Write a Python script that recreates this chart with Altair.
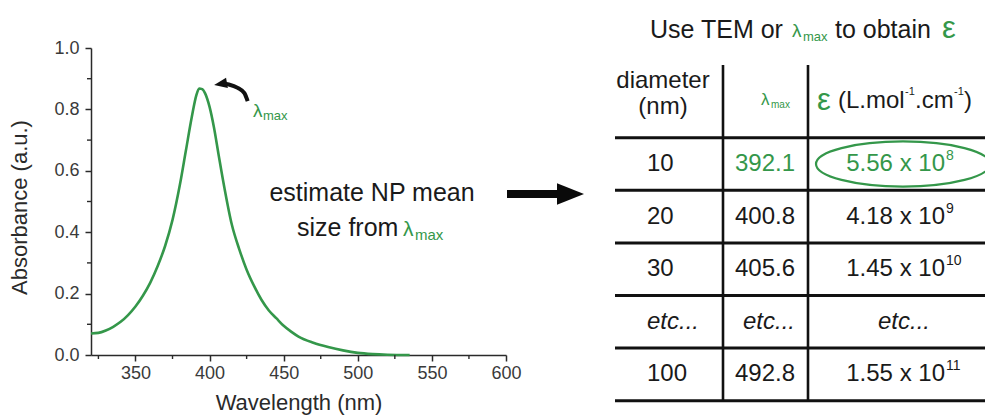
import altair as alt
import pandas as pd

# ---------------- data ----------------
wavelength = [320, 325, 330, 335, 340, 345, 350, 355, 360, 365, 370, 375, 380, 384, 388,
              391, 393, 395, 397, 400, 403, 406, 410, 415, 420, 425, 430, 435, 440, 445,
              450, 455, 460, 470, 480, 490, 500, 510, 520, 535]
absorbance = [0.070, 0.072, 0.080, 0.092, 0.108, 0.130, 0.158, 0.193, 0.236, 0.290, 0.355,
              0.440, 0.555, 0.665, 0.775, 0.845, 0.868, 0.866, 0.852, 0.808, 0.740, 0.655,
              0.545, 0.425, 0.345, 0.278, 0.225, 0.180, 0.145, 0.120, 0.095, 0.076, 0.060,
              0.040, 0.026, 0.015, 0.007, 0.003, 0.001, 0.000]

x_major = [350, 400, 450, 500, 550, 600]
x_minor = [325, 375, 425, 475, 525, 575]
y_major = [0.0, 0.2, 0.4, 0.6, 0.8, 1.0]
y_minor = [0.1, 0.3, 0.5, 0.7, 0.9]

# arrow pointing at the absorbance maximum (data units)
arrow_wl = [425.7, 423.5, 419.0, 413.0, 409.0]
arrow_abs = [0.827, 0.853, 0.870, 0.881, 0.884]
arrow_head_wl = [407.4]
arrow_head_abs = [0.883]

diameters = ["10", "20", "30", "etc...", "100"]
lambda_max = ["392.1", "400.8", "405.6", "etc...", "492.8"]
eps_mantissa = ["5.56 x 10", "4.18 x 10", "1.45 x 10", "etc...", "1.55 x 10"]
eps_exponent = ["8", "9", "10", "", "11"]
highlight_row = 0

# ---------------- style ----------------
FONT = "Liberation Sans"
GREEN = "#34974a"
INK = "#1a1a1a"
AXIS = "#2a2a2a"
W, H = 415, 307

X = alt.Scale(domain=[320, 600], nice=False, zero=False)
Y = alt.Scale(domain=[0, 1], nice=False, zero=False)
T = alt.Scale(domain=[-1, 4], range=[63.4, 326.4], nice=False, zero=False)

XAX = alt.Axis(values=x_major, title="Wavelength (nm)", labelFlush=False, labelPadding=3,
               titleX=207.5, titleY=54, titleBaseline="alphabetic", titleAnchor="middle")
YAX = alt.Axis(values=y_major, format=".1f", title="Absorbance (a.u.)", labelPadding=6,
               titleX=-60, titleY=159, titleAngle=270, titleBaseline="bottom", titleAlign="center")


def label(text, x, y, size, color=INK, align="left", baseline="alphabetic", style="normal"):
    return alt.Chart(pd.DataFrame({"t": [text]})).mark_text(
        align=align, baseline=baseline, fontSize=size, font=FONT, color=color,
        fontStyle=style,
    ).encode(x=alt.value(x), y=alt.value(y), text="t:N")


# ---------------- spectrum ----------------
spec = pd.DataFrame({"wl": wavelength, "a": absorbance})
curve = alt.Chart(spec).mark_line(color=GREEN, strokeWidth=2.6, interpolate="monotone").encode(
    x=alt.X("wl:Q", scale=X, axis=XAX),
    y=alt.Y("a:Q", scale=Y, axis=YAX),
)

minor_x = alt.Chart(pd.DataFrame({"wl": x_minor})).mark_rule(color=AXIS, strokeWidth=1.4).encode(
    x=alt.X("wl:Q", scale=X, axis=XAX), y=alt.value(H), y2=alt.value(H + 4))
minor_y = alt.Chart(pd.DataFrame({"v": y_minor})).mark_rule(color=AXIS, strokeWidth=1.4).encode(
    y=alt.Y("v:Q", scale=Y, axis=None), x=alt.value(0), x2=alt.value(-4))

peak_arrow = alt.Chart(pd.DataFrame({"wl": arrow_wl, "a": arrow_abs, "o": range(len(arrow_wl))})).mark_line(
    color="#111111", strokeWidth=4, interpolate="monotone", strokeCap="butt").encode(
    x=alt.X("wl:Q", scale=X, axis=XAX), y=alt.Y("a:Q", scale=Y, axis=None), order="o:O")
peak_head = alt.Chart(pd.DataFrame({"wl": arrow_head_wl, "a": arrow_head_abs})).mark_point(
    shape="M1,-0.8L-1,0L1,0.8Z", size=170, filled=True, color="#111111", opacity=1, angle=350).encode(
    x=alt.X("wl:Q", scale=X, axis=XAX), y=alt.Y("a:Q", scale=Y, axis=None))

lam_peak = label("λ", 162, 69, 19, GREEN)
max_peak = label("max", 172, 72, 13, GREEN)

est1 = label("estimate NP mean", 281, 153, 25, INK, align="center")
est2 = label("size from", 206, 188, 25, INK)
est_l = label("λ", 312, 188, 21, GREEN)
est_m = label("max", 324, 192, 15, GREEN)

big_shaft = alt.Chart(pd.DataFrame({"k": [0]})).mark_rule(color="#0a0a0a", strokeWidth=8, strokeCap="butt").encode(
    x=alt.value(416), x2=alt.value(469), y=alt.value(146))
big_head = alt.Chart(pd.DataFrame({"k": [0]})).mark_point(
    shape="M-1,-0.8L1,0L-1,0.8Z", size=729, filled=True, color="#0a0a0a", opacity=1).encode(
    x=alt.value(479.5), y=alt.value(146))

# title above table
t1 = label("Use TEM or", 559, -10, 25, INK)
t2 = label("λ", 701, -11, 19, GREEN)
t3 = label("max", 712, -7, 13, GREEN)
t4 = label("to obtain", 744, -10, 25, INK)
t5 = label("ε", 851, -10, 31, GREEN)

# ---------------- table ----------------
rows = pd.DataFrame({
    "row": list(range(len(diameters))),
    "diam": diameters, "lam": lambda_max, "mant": eps_mantissa, "exp": eps_exponent,
})
num_rows = rows[rows["diam"] != "etc..."]
etc_rows = rows[rows["diam"] == "etc..."]


def col_text(df, field, x, align, size=24, style="normal", dy=0, color=None):
    enc = dict(y=alt.Y("row:Q", scale=T, axis=None), x=alt.value(x), text=f"{field}:N")
    if color is not None:
        enc["color"] = color
    return alt.Chart(df).mark_text(align=align, baseline="middle", fontSize=size, font=FONT,
                                   fontStyle=style, dy=dy, color=INK).encode(**enc)


hi = alt.condition(alt.datum.row == highlight_row, alt.value(GREEN), alt.value(INK))
c1 = col_text(num_rows, "diam", 556, "left")
c2 = col_text(num_rows, "lam", 704, "right", color=hi)
c3 = col_text(num_rows, "mant", 854, "right", color=hi)
c3e = col_text(num_rows, "exp", 855, "left", size=14, dy=-8, color=hi)
e1 = col_text(etc_rows, "diam", 556, "left", style="italic")
e2 = col_text(etc_rows, "lam", 704, "right", style="italic")
e3 = col_text(etc_rows, "mant", 813, "center", style="italic")

hlines = alt.Chart(pd.DataFrame({"r": [-0.5, 0.5, 1.5, 2.5, 3.5, 4.5]})).mark_rule(
    color="#111111", strokeWidth=3).encode(
    y=alt.Y("r:Q", scale=T, axis=None), x=alt.value(524), x2=alt.value(905))
vlines = [alt.Chart(pd.DataFrame({"top": [-1.88], "bot": [4.5]})).mark_rule(
    color="#111111", strokeWidth=2.6).encode(
    y=alt.Y("top:Q", scale=T, axis=None), y2="bot:Q", x=alt.value(xv)) for xv in (632, 717)]

ellipse = alt.Chart(pd.DataFrame({"row": [highlight_row]})).mark_point(
    shape="M-1,0A1,0.259,0,1,1,1,0A1,0.259,0,1,1,-1,0Z", size=30276, filled=False,
    color=GREEN, strokeWidth=2.2, opacity=1).encode(
    y=alt.Y("row:Q", scale=T, axis=None), x=alt.value(812))


def head_text(text, x, r, size, color=INK, align="left"):
    return alt.Chart(pd.DataFrame({"t": [text], "r": [r]})).mark_text(
        align=align, baseline="middle", fontSize=size, font=FONT, color=color).encode(
        y=alt.Y("r:Q", scale=T, axis=None), x=alt.value(x), text="t:N")


h1 = head_text("diameter", 572, -1.58, 24, align="center")
h2 = head_text("(nm)", 572, -1.08, 24, align="center")
h3 = head_text("λ", 670, -1.22, 17, GREEN)
h4 = head_text("max", 680, -1.12, 10, GREEN)
h5 = head_text("ε", 726, -1.2, 31, GREEN)
h6 = head_text("(L.mol", 747, -1.2, 24)
h7 = head_text("-1", 814, -1.36, 11)
h8 = head_text(".cm", 824, -1.2, 24)
h9 = head_text("-1", 863, -1.36, 11)
h10 = head_text(")", 873, -1.2, 24)

chart = alt.layer(
    curve, minor_x, minor_y, peak_arrow, peak_head, lam_peak, max_peak,
    est1, est2, est_l, est_m, big_shaft, big_head, t1, t2, t3, t4, t5,
    hlines, *vlines, ellipse, c1, c2, c3, c3e, e1, e2, e3,
    h1, h2, h3, h4, h5, h6, h7, h8, h9, h10,
).resolve_scale(y="independent").properties(
    width=W, height=H,
    padding={"left": 83, "top": 40, "right": 479, "bottom": 60},
    autosize=alt.AutoSizeParams(type="none"),
).configure_view(strokeWidth=0).configure_axis(
    grid=False, domainColor=AXIS, domainWidth=1.5, tickColor=AXIS, tickWidth=1.5, tickSize=6,
    labelFont=FONT, labelFontSize=18, labelColor="#3a3a3a",
    titleFont=FONT, titleFontSize=22, titleFontWeight="normal", titleColor="#2a2a2a",
)

chart.save("out.html", embed_options={"renderer": "svg", "actions": False})
